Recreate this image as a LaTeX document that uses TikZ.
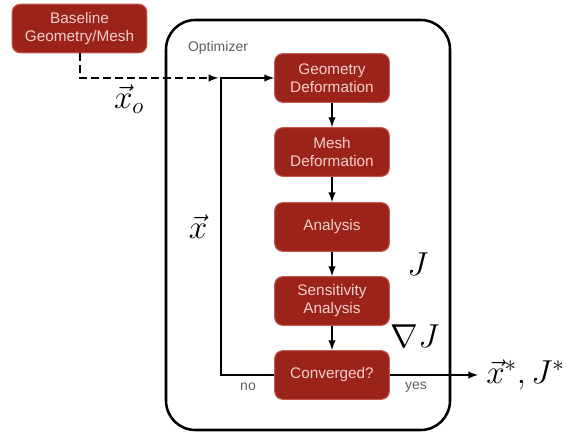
\documentclass[tikz,border=0pt]{standalone}
\usepackage{amsmath}
\usepackage{amssymb}
\usepackage{fontspec}
\setmainfont{Liberation Sans}
\usepackage{tikz}
\usetikzlibrary{arrows}

\definecolor{boxred}{RGB}{156,35,25}
\definecolor{boxedge}{RGB}{196,88,78}
\definecolor{boxtext}{RGB}{242,208,203}
\definecolor{labelgray}{RGB}{95,95,95}

\begin{document}
\begin{tikzpicture}[x=0.75pt, y=-0.75pt,
	stage/.style={rectangle, rounded corners=6pt, fill=boxred, draw=boxedge, line width=0.8pt,
		minimum width=86pt, minimum height=36.5pt, inner sep=1pt, align=center,
		text=boxtext, font=\fontsize{11.5}{13.5}\selectfont},
	flow/.style={-latex, line width=1.5pt},
	mathlabel/.style={font=\fontsize{23}{27}\selectfont},
	smalllabel/.style={text=labelgray, font=\fontsize{10.5}{12}\selectfont}]
	\useasboundingbox (0,0) rectangle (578,434);
	
	% optimizer frame
	\draw [line width=1.9pt, rounded corners=22pt] (166,20) rectangle (450,430);
	\node (optlabel) at (218,48) [smalllabel] {Optimizer};
	
	% stages
	\node (base) at (79.5,28.5) [stage, minimum width=101pt] {Baseline\\Geometry/Mesh};
	\node (geo) at (332,78) [stage] {Geometry\\Deformation};
	\node (mesh) at (332,152) [stage] {Mesh\\Deformation};
	\node (ana) at (332,227) [stage] {Analysis};
	\node (sens) at (332,301) [stage] {Sensitivity\\Analysis};
	\node (conv) at (332,375) [stage] {Converged?};
	
	\coordinate (loop) at (221,78);
	\coordinate (bend) at (79.5,78);
	
	% connectors
	\draw [flow] (geo) -- (mesh);
	\draw [flow] (mesh) -- (ana);
	\draw [flow] (ana) -- (sens);
	\draw [flow] (sens) -- (conv);
	\draw [flow] (conv.west) -| (loop) -- (geo.west);
	\draw [flow, dash pattern=on 6pt off 3pt] (base.south) -- (bend) -- ([xshift=-2pt]loop);
	
	\node (out) at (486,375) [mathlabel, anchor=west, inner sep=0pt] {$\vec{x}^*, J^*$};
	\draw [flow] (conv.east) -- ([xshift=-6pt]out.west);
	
	% labels
	\node (xo) at (129,99) [mathlabel] {$\vec{x}_o$};
	\node (xvec) at (198,227) [mathlabel] {$\vec{x}$};
	\node (jval) at (418,264) [mathlabel] {$J$};
	\node (grad) at (415,336) [mathlabel] {$\nabla J$};
	\node (no) at (248,387) [smalllabel] {no};
	\node (yes) at (416,387) [smalllabel] {yes};
\end{tikzpicture}
\end{document}
